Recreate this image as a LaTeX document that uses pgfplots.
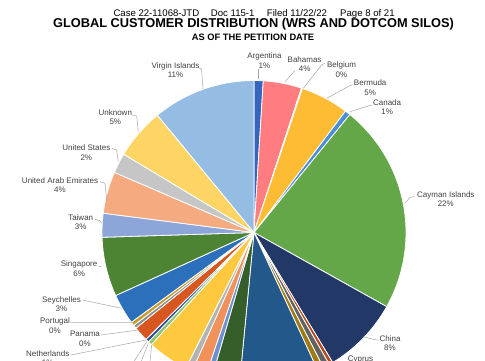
\documentclass[border=0pt]{standalone}
\usepackage{pgfplots}
\usepackage{pgfplotstable}
\pgfplotsset{compat=1.18}
\usepackage{fontspec}
\setmainfont{Liberation Sans}

\definecolor{c0}{HTML}{3466BE}
\definecolor{c1}{HTML}{FF7C80}
\definecolor{c2}{HTML}{A5A5A5}
\definecolor{c3}{HTML}{FEBB34}
\definecolor{c4}{HTML}{4A8ED6}
\definecolor{c5}{HTML}{64A748}
\definecolor{c6}{HTML}{223867}
\definecolor{c7}{HTML}{B64A1E}
\definecolor{c8}{HTML}{626262}
\definecolor{c9}{HTML}{A07B14}
\definecolor{c10}{HTML}{22598A}
\definecolor{c11}{HTML}{355E2A}
\definecolor{c12}{HTML}{6C90D2}
\definecolor{c13}{HTML}{F0925A}
\definecolor{c14}{HTML}{B3B3B3}
\definecolor{c15}{HTML}{FFC93F}
\definecolor{c16}{HTML}{8BC46C}
\definecolor{c17}{HTML}{2A4F99}
\definecolor{c18}{HTML}{D8561F}
\definecolor{c19}{HTML}{8C8C8C}
\definecolor{c20}{HTML}{C89B2A}
\definecolor{c21}{HTML}{2C70BB}
\definecolor{c22}{HTML}{4D8434}
\definecolor{c23}{HTML}{8CA6DA}
\definecolor{c24}{HTML}{F5AA7F}
\definecolor{c25}{HTML}{C6C6C6}
\definecolor{c26}{HTML}{FED565}
\definecolor{c27}{HTML}{95BDE3}
\definecolor{lbl}{HTML}{404040}
\definecolor{lead}{HTML}{A6A6A6}

% share of customers, percent, clockwise from 12 o'clock
\pgfplotstableread{
idx value
0  0.972
1  4.083
2  0.111
3  5.111
4  0.583
5  22.250
6  8.222
7  0.417
8  0.694
9  0.667
10 8.417
11 2.972
12 0.667
13 1.528
14 0.722
15 4.389
16 0.417
17 0.361
18 1.583
19 0.361
20 0.417
21 3.250
22 6.306
23 2.528
24 4.444
25 2.139
26 5.417
27 10.972
}\piedata
\pgfplotstablecreatecol[create col/expr accum={\pgfmathaccuma + \thisrow{value}}{0}]{cum}\piedata

\begin{document}
\begin{tikzpicture}
\begin{axis}[
  at={(0,0)}, anchor=south west,
  scale only axis, width=485pt, height=360pt,
  xmin=0, xmax=485, ymin=0, ymax=360, y dir=reverse,
  hide axis, clip=false,
]
\pgfplotsinvokeforeach{0,...,27}{
  \pgfplotstablegetelem{#1}{value}\of\piedata \let\vv\pgfplotsretval
  \pgfplotstablegetelem{#1}{cum}\of\piedata \let\cc\pgfplotsretval
  \pgfmathsetmacro\aone{90-3.6*(\cc-\vv)}
  \pgfmathsetmacro\atwo{90-3.6*\cc}
  \edef\tmp{\noexpand\filldraw[fill=c#1, draw=white, line width=0.8pt, line join=round] (axis cs:254,232.5) -- ++(\aone:152pt) arc[start angle=\aone, end angle=\atwo, radius=152pt] -- cycle;}
  \tmp
}
% leader lines
\begin{scope}[draw=lead, line width=0.5pt]
\draw (axis cs:199,68) -- (axis cs:201.5,69) -- (axis cs:203,89);
\draw (axis cs:132.3,115) -- (axis cs:136.7,116) -- (axis cs:138.3,131.7);
\draw (axis cs:111.7,148.3) -- (axis cs:116.7,150) -- (axis cs:118.3,161.7);
\draw (axis cs:100,181.7) -- (axis cs:105,183.3) -- (axis cs:106.7,200);
\draw (axis cs:95,219.3) -- (axis cs:100,220.7) -- (axis cs:101.7,223.3);
\draw (axis cs:98.5,266) -- (axis cs:101.7,267);
\draw (axis cs:82.3,300) -- (axis cs:121.7,308.3);
\draw (axis cs:70.7,322.3) -- (axis cs:131.7,322.7);
\draw (axis cs:100.7,335) -- (axis cs:138.3,330);
\draw (axis cs:70.7,355) -- (axis cs:146,340);
\draw (axis cs:131,366) -- (axis cs:146.7,341.7);
\draw (axis cs:139.5,366) -- (axis cs:148.3,343.3);
\draw (axis cs:149.5,366) -- (axis cs:151.7,345);
\draw (axis cs:258.3,69.3) -- (axis cs:258.3,79.3);
\draw (axis cs:295,70.7) -- (axis cs:285,81.7);
\draw (axis cs:325,63.3) -- (axis cs:321.7,65) -- (axis cs:303.3,88.3);
\draw (axis cs:351.7,85) -- (axis cs:349.3,86) -- (axis cs:326.7,98.3);
\draw (axis cs:371.7,105) -- (axis cs:368.3,106) -- (axis cs:350,111.7);
\draw (axis cs:415,196.7) -- (axis cs:410,197.3) -- (axis cs:405,203.3);
\draw (axis cs:378.3,340) -- (axis cs:373.3,339.3) -- (axis cs:363.3,336.7);
\end{scope}
% data labels
\begin{scope}[every node/.style={text=lbl, align=center, inner sep=0pt, font=\fontsize{8}{9.7}\selectfont}]
\node at (axis cs:175.5,70) {Virgin Islands\\11\%};
\node at (axis cs:115.3,117) {Unknown\\5\%};
\node at (axis cs:86.3,152.5) {United States\\2\%};
\node at (axis cs:60,185) {United Arab Emirates\\4\%};
\node at (axis cs:80.7,222) {Taiwan\\3\%};
\node at (axis cs:79.1,268.5) {Singapore\\6\%};
\node at (axis cs:61.5,304) {Seychelles\\3\%};
\node at (axis cs:55,325.5) {Portugal\\0\%};
\node at (axis cs:85,338.5) {Panama\\0\%};
\node at (axis cs:47.7,358) {Netherlands\\1\%};
\node at (axis cs:264.5,60.7) {Argentina\\1\%};
\node at (axis cs:304.6,64) {Bahamas\\4\%};
\node at (axis cs:341.5,69.7) {Belgium\\0\%};
\node at (axis cs:370.2,87.8) {Bermuda\\5\%};
\node at (axis cs:387.1,107.2) {Canada\\1\%};
\node at (axis cs:445.8,199.2) {Cayman Islands\\22\%};
\node at (axis cs:390,343) {China\\8\%};
\node at (axis cs:360.5,364) {Cyprus\\0\%};
\end{scope}
% header and titles
\begin{scope}[every node/.style={inner sep=0pt, anchor=base west, font=\fontsize{9.6}{11}\selectfont}]
\node at (axis cs:113.3,16.6) {Case 22-11068-JTD};
\node at (axis cs:210.7,16.6) {Doc 115-1};
\node at (axis cs:266.7,16.6) {Filed 11/22/22};
\node at (axis cs:340,16.6) {Page 8 of 21};
\end{scope}
\node[inner sep=0pt, anchor=base, font=\fontsize{12.8}{14}\selectfont\bfseries] at (axis cs:253.5,27.7) {GLOBAL CUSTOMER DISTRIBUTION (WRS AND DOTCOM SILOS)};
\node[inner sep=0pt, anchor=base, font=\fontsize{9.3}{11}\selectfont\bfseries] at (axis cs:253,40) {AS OF THE PETITION DATE};
\end{axis}
\pgfresetboundingbox
\path (current axis.south west) rectangle (current axis.north east);
\end{tikzpicture}
\end{document}
